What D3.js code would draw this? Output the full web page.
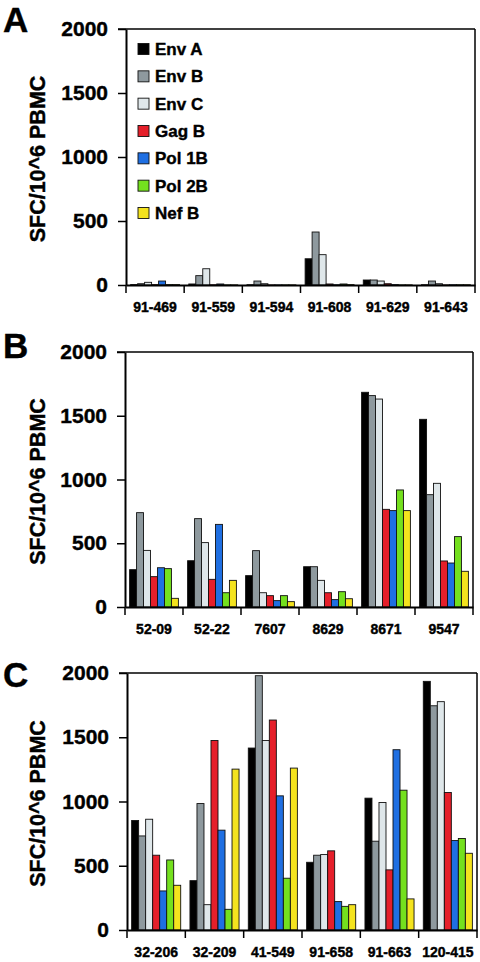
<!DOCTYPE html>
<html><head><meta charset="utf-8">
<script src="https://cdn.jsdelivr.net/npm/d3@7"></script>
<style>
html,body{margin:0;padding:0;background:#fff;}
svg{display:block;}
text{font-family:"Liberation Sans",Arial,sans-serif;font-weight:bold;fill:#000;stroke:#000;stroke-width:0.4px;}
</style></head>
<body>
<svg id="chart" width="480" height="962"></svg>
<script>
// ---- data ----
const series = ["Env A","Env B","Env C","Gag B","Pol 1B","Pol 2B","Nef B"];
const seriesColors = ["#000000","#8e999e","#dfe7ea","#e51f2a","#1f6fe2","#74e01e","#f4e31e"];
const yTicks = [0,500,1000,1500,2000];

const categoriesA = ["91-469","91-559","91-594","91-608","91-629","91-643"];
const valuesA = [
  [3,10,21,3,31,3,3],
  [8,73,127,2,8,1,1],
  [2,31,10,1,1,1,1],
  [205,414,237,8,2,8,3],
  [39,39,31,10,3,1,1],
  [2,31,10,1,2,2,2]
];
const categoriesB = ["52-09","52-22","7607","8629","8671","9547"];
const valuesB = [
  [293,740,444,238,308,301,68],
  [363,693,505,217,648,112,209],
  [246,442,112,89,50,89,42],
  [316,316,209,112,58,120,65],
  [1684,1658,1631,766,756,918,756],
  [1472,881,970,361,345,552,280]
];
const categoriesC = ["32-206","32-209","41-549","91-658","91-663","120-415"];
const valuesC = [
  [852,732,862,582,304,545,348],
  [384,984,197,1475,777,161,1252],
  [1416,1979,1475,1634,1044,403,1260],
  [527,582,587,616,221,184,197],
  [1026,691,992,468,1403,1088,242],
  [1935,1745,1777,1070,696,712,597]
];
const yTitle = "SFC/10^6 PBMC";

// ---- layout ----
const panels = [
  {letter:"A", cats:categoriesA, vals:valuesA, left:126, right:475, top:29,  bottom:285, letterY:32,  legend:true},
  {letter:"B", cats:categoriesB, vals:valuesB, left:125, right:473, top:352, bottom:607, letterY:358, legend:false},
  {letter:"C", cats:categoriesC, vals:valuesC, left:127, right:477, top:673, bottom:930, letterY:687, legend:false}
];

const svg = d3.select("#chart");

panels.forEach(p => {
  const g = svg.append("g");
  const x0 = d3.scaleBand().domain(p.cats).range([p.left, p.right]).paddingInner(0).paddingOuter(0);
  const x1 = d3.scaleBand().domain(series).range([0, x0.bandwidth()]).paddingInner(0).paddingOuter(0.66);
  const y = d3.scaleLinear().domain([0,2000]).range([p.bottom, p.top]);
  const color = d3.scaleOrdinal().domain(series).range(seriesColors);

  // frame top/right
  g.append("line").attr("x1",p.left-8).attr("x2",p.right).attr("y1",y(2000)).attr("y2",y(2000))
    .attr("stroke","#000").attr("stroke-width",1.5);
  g.append("line").attr("x1",p.right).attr("x2",p.right).attr("y1",y(2000)).attr("y2",p.bottom)
    .attr("stroke","#000").attr("stroke-width",1.5);

  // bars
  const groups = g.selectAll("g.grp").data(p.cats.map((c,i)=>({cat:c, vals:p.vals[i]})))
    .join("g").attr("class","grp").attr("transform",d=>`translate(${x0(d.cat)},0)`);
  groups.selectAll("rect").data(d=>series.map((s,j)=>({s, v:d.vals[j]})))
    .join("rect")
    .attr("x",d=>x1(d.s)).attr("width",x1.bandwidth())
    .attr("y",d=>y(d.v)).attr("height",d=>p.bottom - y(d.v))
    .attr("fill",d=>color(d.s)).attr("stroke","#111").attr("stroke-width",0.9);

  // y axis
  const ya = g.append("g").attr("transform",`translate(${p.left},0)`)
    .call(d3.axisLeft(y).tickValues(yTicks).tickSize(8).tickSizeOuter(0).tickPadding(10).tickFormat(d3.format("d")));
  ya.select(".domain").attr("stroke","#000").attr("stroke-width",2);
  ya.selectAll(".tick line").attr("stroke","#000").attr("stroke-width",1.5);
  ya.selectAll(".tick text").style("font-size","21px").attr("fill","#000");

  // x axis
  const xa = g.append("g").attr("transform",`translate(0,${p.bottom})`)
    .call(d3.axisBottom(x0).tickSize(0).tickSizeOuter(0).tickPadding(17));
  xa.select(".domain").attr("stroke","#000").attr("stroke-width",2);
  xa.selectAll(".tick text").style("font-size","14px").attr("fill","#000");
  const bounds = p.cats.map(c=>x0(c)).concat([x0(p.cats[p.cats.length-1]) + x0.bandwidth()]);
  xa.selectAll("line.bt").data(bounds).join("line").attr("class","bt")
    .attr("x1",d=>d).attr("x2",d=>d).attr("y1",0).attr("y2",8)
    .attr("stroke","#000").attr("stroke-width",1.5);

  // y title
  const midY = (p.top + p.bottom)/2 + 2;
  g.append("text").attr("transform",`translate(45,${midY}) rotate(-90)`)
    .attr("text-anchor","middle").style("font-size","21.5px").text(yTitle);

  // panel letter
  g.append("text").attr("x",3).attr("y",p.letterY).style("font-size","35px").text(p.letter);

  // legend
  if (p.legend) {
    const lg = g.append("g");
    const rowY = d3.scalePoint().domain(series).range([p.top+20, p.top+184]);
    const items = lg.selectAll("g").data(series).join("g")
      .attr("transform",d=>`translate(138,${rowY(d)})`);
    items.append("rect").attr("x",0).attr("y",-5.5).attr("width",11).attr("height",11)
      .attr("fill",d=>color(d)).attr("stroke","#111").attr("stroke-width",0.9);
    items.append("text").attr("x",17).attr("y",6).style("font-size","17px").text(d=>d);
  }
});
</script>
</body></html>
